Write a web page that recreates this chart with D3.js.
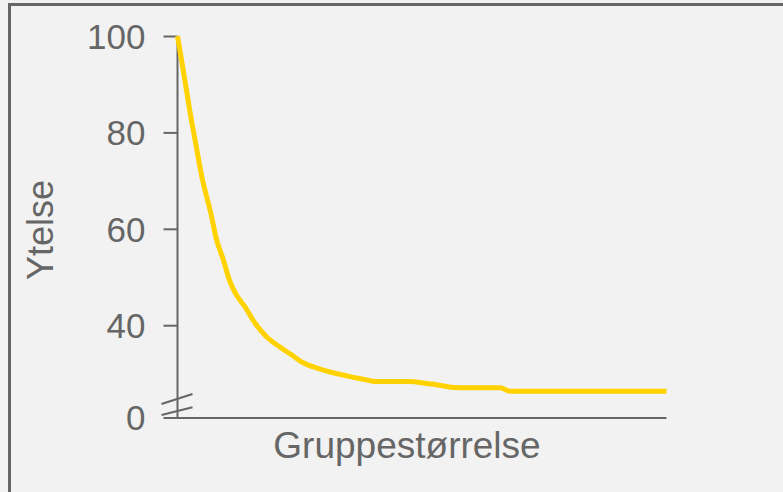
<!DOCTYPE html>
<html>
<head>
<meta charset="utf-8">
<script src="https://cdn.jsdelivr.net/npm/d3@7/dist/d3.min.js"></script>
<style>
  html, body { margin: 0; padding: 0; background: #f2f2f2; }
  svg { display: block; }
  text { font-family: "Liberation Sans", Arial, sans-serif; fill: #666; }
</style>
</head>
<body>
<svg id="chart" width="783" height="492"></svg>
<script>
// Data (group size on x, performance on y; y axis is broken below ~20)
const groupSize = [0, 1.5, 2.6, 3.6, 5.0, 6.8, 8.0, 9.4, 10.6, 11.8, 13.8, 15.8, 18.2, 20.9, 23.4, 25.7, 28.5, 31.2, 34.6, 38.0, 40.7, 47.5, 51.0, 53.3, 56.4, 66.0, 68.0, 100];
const performance = [100, 90.9, 84.0, 78.4, 70.7, 63.3, 57.7, 53.5, 49.4, 46.7, 43.8, 40.5, 37.6, 35.5, 33.8, 32.2, 31.1, 30.3, 29.5, 28.8, 28.3, 28.3, 27.9, 27.6, 27.1, 27.0, 26.3, 26.3];
const yTickValues = [40, 60, 80, 100];
const yTickLabels = ["40", "60", "80", "100"];
const yBreakValue = 20.75;   // value at which the broken axis sits, labelled "0"
const yBreakLabel = "0";
const xTitle = "Gruppestørrelse";
const yTitle = "Ytelse";

const svg = d3.select("#chart");
const W = 783, H = 492;

// background + frame
svg.append("rect").attr("x", 0).attr("y", 0).attr("width", W).attr("height", H).attr("fill", "#f2f2f2");
svg.append("rect").attr("x", 9.5).attr("y", 4.5).attr("width", W + 20).attr("height", H + 20)
  .attr("fill", "none").attr("stroke", "#666").attr("stroke-width", 3);

const x = d3.scaleLinear().domain([0, 100]).range([177.5, 666.5]);
const y = d3.scaleLinear().domain([yBreakValue, 100]).range([418, 36]);
const axisColor = "#666";

// y axis
const yAxis = d3.axisLeft(y).tickValues(yTickValues)
  .tickFormat((d, i) => yTickLabels[i]).tickSize(14).tickPadding(18);
const gy = svg.append("g").attr("transform", `translate(${x(0)},0)`).call(yAxis);
gy.select(".domain").remove();
gy.selectAll(".tick line").attr("stroke", axisColor).attr("stroke-width", 2);
gy.selectAll(".tick text").style("font-size", "35px").attr("fill", "#666")
  .attr("dy", "0.35em");

svg.append("line").attr("x1", x(0)).attr("x2", x(0)).attr("y1", y(100)).attr("y2", y(yBreakValue))
  .attr("stroke", axisColor).attr("stroke-width", 2);

// "0" label at broken axis
svg.append("text").attr("x", x(0) - 32).attr("y", y(yBreakValue)).attr("dy", "0.35em")
  .attr("text-anchor", "end").style("font-size", "35px").text(yBreakLabel);

// x axis (extends left like a tick)
svg.append("line").attr("x1", x(0) - 14).attr("x2", x(100)).attr("y1", y(yBreakValue)).attr("y2", y(yBreakValue))
  .attr("stroke", axisColor).attr("stroke-width", 2);

// break marks
const bx0 = x(0) - 16, bx1 = x(0) + 15;
[[404, 394], [415, 407.3]].forEach(([a, b]) => {
  svg.append("line").attr("x1", bx0).attr("x2", bx1).attr("y1", a).attr("y2", b)
    .attr("stroke", axisColor).attr("stroke-width", 2);
});

// line
const data = groupSize.map((g, i) => ({ g, v: performance[i] }));
const line = d3.line().x(d => x(d.g)).y(d => y(d.v)).curve(d3.curveMonotoneX);
svg.append("path").datum(data).attr("d", line).attr("fill", "none")
  .attr("stroke", "#ffd200").attr("stroke-width", 5).attr("stroke-linejoin", "round").attr("stroke-linecap", "butt");

// titles
svg.append("text").attr("x", 407).attr("y", 458).attr("text-anchor", "middle")
  .style("font-size", "37px").text(xTitle);
svg.append("text").attr("transform", "translate(53,230) rotate(-90)").attr("text-anchor", "middle")
  .style("font-size", "36px").text(yTitle);
</script>
</body>
</html>
